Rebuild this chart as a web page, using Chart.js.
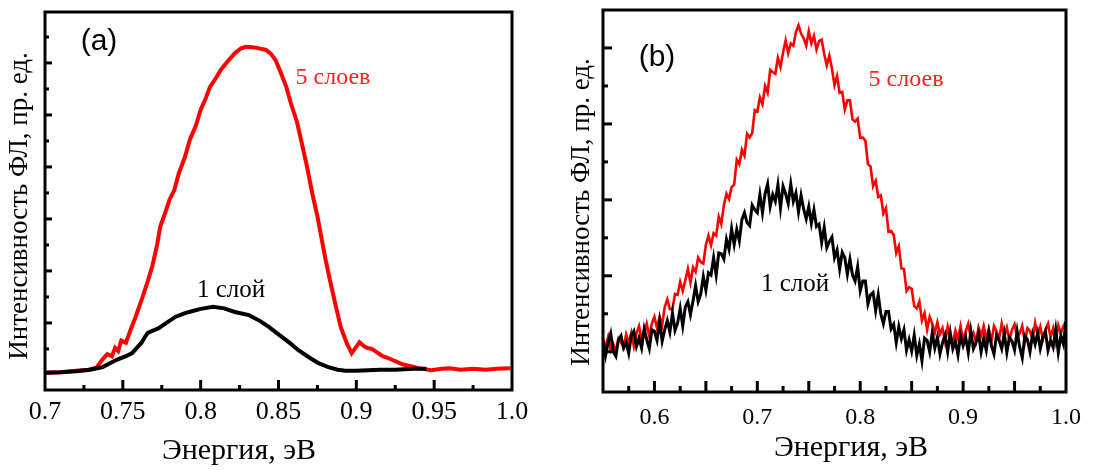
<!DOCTYPE html>
<html>
<head>
<meta charset="utf-8">
<script src="https://cdn.jsdelivr.net/npm/chart.js@4/dist/chart.umd.min.js"></script>
<style>
body{margin:0;background:#fff;width:1093px;height:470px;overflow:hidden;position:relative}
canvas{position:absolute;top:0}
#chartA{left:0}
#chartB{left:546px}
</style>
</head>
<body>
<canvas id="chartA" width="546" height="470"></canvas>
<canvas id="chartB" width="547" height="470"></canvas>
<script>
// ---- panel (a) ----
var energyA5 = [0.700,0.710,0.720,0.728,0.733,0.737,0.740,0.743,0.745,0.747,0.749,0.752,0.755,0.758,0.762,0.766,0.769,0.772,0.774,0.777,
  0.780,0.783,0.786,0.790,0.793,0.797,0.800,0.803,0.806,0.810,0.813,0.817,0.822,0.826,0.829,0.833,0.836,0.842,0.845,0.848,
  0.851,0.855,0.858,0.862,0.865,0.868,0.872,0.875,0.877,0.880,0.883,0.887,0.890,0.894,0.897,0.899,0.902,0.905,0.907,0.910,
  0.913,0.917,0.920,0.926,0.930,0.935,0.940,0.948,0.955,0.960,0.967,0.975,0.983,0.990,0.999];
var intensA5 = [0.04,0.05,0.08,0.10,0.14,0.30,0.40,0.36,0.52,0.46,0.66,0.62,0.87,1.10,1.44,1.80,2.10,2.50,2.85,3.10,
  3.37,3.55,3.88,4.20,4.52,4.80,5.10,5.30,5.54,5.72,5.87,6.02,6.19,6.28,6.31,6.30,6.29,6.25,6.18,6.06,
  5.85,5.54,5.22,4.85,4.45,4.05,3.45,3.05,2.73,2.25,1.83,1.30,0.92,0.60,0.42,0.50,0.63,0.55,0.52,0.50,
  0.44,0.36,0.33,0.25,0.20,0.17,0.13,0.09,0.12,0.13,0.10,0.12,0.10,0.12,0.13];

var energyA1 = [0.700,0.710,0.720,0.729,0.737,0.746,0.752,0.756,0.759,0.762,0.764,0.766,0.770,0.773,0.778,0.784,0.790,0.795,0.800,0.808,
  0.815,0.822,0.831,0.838,0.844,0.850,0.857,0.863,0.870,0.876,0.882,0.888,0.893,0.900,0.915,0.925,0.937,0.945];
var intensA1 = [0.04,0.05,0.07,0.10,0.15,0.29,0.36,0.42,0.52,0.62,0.72,0.81,0.86,0.90,1.00,1.12,1.19,1.23,1.27,1.31,
  1.28,1.21,1.15,1.04,0.92,0.78,0.62,0.47,0.33,0.22,0.15,0.10,0.08,0.08,0.10,0.10,0.12,0.12];

var xTickA = [0.7,0.75,0.8,0.85,0.9,0.95,1.0];
var xLabelA = ['0.7','0.75','0.8','0.85','0.9','0.95','1.0'];
var xMajorA = [0.75,0.8,0.85,0.9,0.95];
var xMinorA = [0.725,0.775,0.825,0.875,0.925,0.975];
var yMajorA = [1,2,3,4,5,6];
var yMinorA = [0.5,1.5,2.5,3.5,4.5,5.5,6.5];

// ---- panel (b) ----
var energyB = [
  0.5500,0.5525,0.5550,0.5575,0.5600,0.5625,0.5650,0.5675,0.5700,0.5725,
  0.5750,0.5775,0.5800,0.5825,0.5850,0.5875,0.5900,0.5925,0.5950,0.5975,
  0.6000,0.6025,0.6050,0.6075,0.6100,0.6125,0.6150,0.6175,0.6200,0.6225,
  0.6250,0.6275,0.6300,0.6325,0.6350,0.6375,0.6400,0.6425,0.6450,0.6475,
  0.6500,0.6525,0.6550,0.6575,0.6600,0.6625,0.6650,0.6675,0.6700,0.6725,
  0.6750,0.6775,0.6800,0.6825,0.6850,0.6875,0.6900,0.6925,0.6950,0.6975,
  0.7000,0.7025,0.7050,0.7075,0.7100,0.7125,0.7150,0.7175,0.7200,0.7225,
  0.7250,0.7275,0.7300,0.7325,0.7350,0.7375,0.7400,0.7425,0.7450,0.7475,
  0.7500,0.7525,0.7550,0.7575,0.7600,0.7625,0.7650,0.7675,0.7700,0.7725,
  0.7750,0.7775,0.7800,0.7825,0.7850,0.7875,0.7900,0.7925,0.7950,0.7975,
  0.8000,0.8025,0.8050,0.8075,0.8100,0.8125,0.8150,0.8175,0.8200,0.8225,
  0.8250,0.8275,0.8300,0.8325,0.8350,0.8375,0.8400,0.8425,0.8450,0.8475,
  0.8500,0.8525,0.8550,0.8575,0.8600,0.8625,0.8650,0.8675,0.8700,0.8725,
  0.8750,0.8775,0.8800,0.8825,0.8850,0.8875,0.8900,0.8925,0.8950,0.8975,
  0.9000,0.9025,0.9050,0.9075,0.9100,0.9125,0.9150,0.9175,0.9200,0.9225,
  0.9250,0.9275,0.9300,0.9325,0.9350,0.9375,0.9400,0.9425,0.9450,0.9475,
  0.9500,0.9525,0.9550,0.9575,0.9600,0.9625,0.9650,0.9675,0.9700,0.9725,
  0.9750,0.9775,0.9800,0.9825,0.9850,0.9875,0.9900,0.9925,0.9950,0.9975,
  1.0000];
var intensB5 = [
  -0.10,0.08,0.20,0.02,0.10,0.00,0.17,0.12,0.06,0.23,
  0.12,0.25,0.07,0.24,0.34,0.17,0.24,0.37,0.20,0.37,
  0.46,0.31,0.46,0.35,0.59,0.69,0.56,0.56,0.76,0.75,
  0.92,0.80,0.94,1.09,0.91,1.11,1.05,1.24,1.18,1.16,
  1.41,1.53,1.40,1.56,1.53,1.78,1.68,1.93,2.08,2.01,
  2.17,2.20,2.53,2.47,2.66,2.58,2.87,2.82,2.88,3.18,
  3.16,3.35,3.26,3.50,3.41,3.71,3.68,3.66,3.87,3.75,
  3.94,4.10,3.93,4.06,4.03,4.21,4.30,4.19,4.13,4.03,
  4.22,4.06,4.16,3.98,4.09,4.11,3.92,3.77,3.90,3.73,
  3.51,3.63,3.41,3.42,3.19,3.31,3.31,3.06,3.03,3.07,
  2.82,2.82,2.78,2.47,2.44,2.18,2.25,2.04,2.06,1.82,
  1.89,1.58,1.59,1.54,1.30,1.39,1.10,1.09,0.80,0.85,
  0.83,0.60,0.57,0.66,0.41,0.51,0.29,0.46,0.37,0.25,
  0.39,0.23,0.31,0.13,0.33,0.18,0.12,0.28,0.17,0.34,
  0.15,0.27,0.37,0.18,0.25,0.13,0.32,0.21,0.34,0.17,
  0.30,0.13,0.34,0.27,0.17,0.37,0.20,0.32,0.15,0.29,
  0.36,0.19,0.24,0.34,0.13,0.31,0.27,0.17,0.38,0.21,
  0.33,0.16,0.29,0.37,0.19,0.31,0.13,0.35,0.24,0.34,
  0.40];
var intensB1 = [
  0.16,-0.05,0.12,0.24,0.00,-0.06,0.16,0.21,0.05,0.12,
  -0.02,0.21,0.27,0.07,0.18,0.05,0.30,0.16,0.04,0.29,
  0.27,0.15,0.40,0.14,0.29,0.41,0.26,0.51,0.28,0.38,
  0.57,0.34,0.59,0.66,0.49,0.67,0.87,0.66,0.76,0.99,
  0.81,1.04,1.01,1.24,1.01,1.30,1.29,1.22,1.48,1.35,
  1.62,1.41,1.61,1.46,1.74,1.83,1.70,1.66,1.93,1.87,
  1.83,2.07,1.83,2.08,2.21,1.91,2.07,1.98,2.20,1.89,
  2.18,2.08,1.95,2.21,1.98,2.09,1.84,2.06,1.88,1.75,
  1.91,1.69,1.87,1.65,1.68,1.44,1.64,1.37,1.45,1.51,
  1.24,1.34,1.09,1.31,1.24,1.02,1.22,1.01,0.93,1.12,
  0.80,0.93,0.93,0.63,0.75,0.78,0.54,0.75,0.50,0.37,
  0.53,0.53,0.30,0.36,0.12,0.33,0.17,0.29,0.02,0.16,
  0.01,0.22,-0.05,0.10,-0.12,0.18,0.15,0.00,0.25,0.05,
  0.19,-0.03,0.12,0.22,0.00,0.25,0.04,0.14,-0.04,0.21,
  0.08,0.19,-0.01,0.27,0.04,0.12,0.24,0.00,0.17,0.02,
  0.26,0.08,-0.03,0.22,0.15,0.04,0.24,-0.01,0.19,0.14,
  0.02,0.27,0.06,-0.08,0.21,0.16,0.00,0.23,0.10,0.25,
  0.04,0.19,0.27,0.02,0.15,0.06,0.29,-0.01,0.21,0.10,
  0.40];

var xTickB = [0.6,0.7,0.8,0.9,1.0];
var xLabelB = ['0.6','0.7','0.8','0.9','1.0'];
var xMajorB = [0.6,0.65,0.7,0.75,0.8,0.85,0.9,0.95];
var xMinorB = [0.575,0.625,0.675,0.725,0.775,0.825,0.875,0.925,0.975];
var yMajorB = [0,1,2,3,4];
var yMinorB = [0.5,1.5,2.5,3.5];

function pts(xs, ys) { return xs.map(function (v, i) { return {x: v, y: ys[i]}; }); }

var serif = '"Liberation Serif", "Times New Roman", serif';

// frame, inward ticks and free texts
const frameTicks = {
  id: 'frameTicks',
  afterDraw(chart, args, o) {
    const ctx = chart.ctx, a = chart.chartArea, x = chart.scales.x, y = chart.scales.y;
    ctx.save();
    ctx.strokeStyle = '#000';
    ctx.lineWidth = 3;
    function seg(x1, y1, x2, y2) { ctx.beginPath(); ctx.moveTo(x1, y1); ctx.lineTo(x2, y2); ctx.stroke(); }
    o.xMajor.forEach(v => { const p = x.getPixelForValue(v); seg(p, a.bottom, p, a.bottom - o.xMajorLen); });
    o.xMinor.forEach(v => { const p = x.getPixelForValue(v); seg(p, a.bottom, p, a.bottom - o.xMinorLen); });
    o.yMajor.forEach(v => { const p = y.getPixelForValue(v); seg(a.left, p, a.left + o.yMajorLen, p); });
    o.yMinor.forEach(v => { const p = y.getPixelForValue(v); seg(a.left, p, a.left + o.yMinorLen, p); });
    ctx.strokeRect(a.left, a.top, a.right - a.left, a.bottom - a.top);

    ctx.textAlign = 'center';
    ctx.textBaseline = 'middle';
    o.notes.forEach(n => {
      ctx.font = n.font;
      ctx.fillStyle = n.color;
      ctx.fillText(n.text, x.getPixelForValue(n.x), y.getPixelForValue(n.y));
    });

    ctx.fillStyle = '#000';
    ctx.textBaseline = 'alphabetic';
    ctx.font = '30px ' + serif;
    ctx.fillText('Энергия, эВ', o.xTitleAt[0], o.xTitleAt[1]);
    ctx.translate(o.yTitleAt[0], o.yTitleAt[1]);
    ctx.rotate(-Math.PI / 2);
    ctx.textBaseline = 'middle';
    ctx.font = '27px ' + serif;
    ctx.fillText('Интенсивность ФЛ, пр. ед.', 0, 0);
    ctx.restore();
  }
};

function makeChart(id, datasets, c) {
  return new Chart(document.getElementById(id), {
    type: 'line',
    data: {datasets: datasets},
    options: {
      responsive: false,
      animation: false,
      devicePixelRatio: 1,
      layout: {padding: c.padding},
      plugins: {legend: {display: false}, tooltip: {enabled: false}, frameTicks: c.frame},
      elements: {point: {radius: 0}, line: {tension: 0}},
      scales: {
        x: {
          type: 'linear', min: c.xMin, max: c.xMax,
          grid: {display: false, drawTicks: false},
          border: {display: false},
          afterBuildTicks: function (s) { s.ticks = c.xTicks.map(function (v) { return {value: v}; }); },
          afterFit: function (s) { s.height = c.xAxisH; },
          ticks: {
            autoSkip: false, maxRotation: 0, padding: c.tickPad, color: '#000',
            font: {family: serif, size: c.tickSize},
            callback: function (v, i) { return c.xLabels[i]; }
          }
        },
        y: {
          type: 'linear', min: c.yMin, max: c.yMax,
          grid: {display: false, drawTicks: false},
          border: {display: false},
          ticks: {display: false},
          afterFit: function (s) { s.width = c.yAxisW; }
        }
      }
    },
    plugins: [frameTicks]
  });
}

makeChart('chartA', [
  {data: pts(energyA1, intensA1), borderColor: '#000000', borderWidth: 4, order: 0},
  {data: pts(energyA5, intensA5), borderColor: '#ff0000', borderWidth: 4, order: 1}
], {
  padding: {top: 12, right: 34, left: 0, bottom: 0},
  xMin: 0.7, xMax: 1.0, yMin: -0.29, yMax: 6.98,
  xTicks: xTickA, xLabels: xLabelA, xAxisH: 80, yAxisW: 45, tickPad: 7, tickSize: 26,
  frame: {
    xMajor: xMajorA, xMinor: xMinorA, yMajor: yMajorA, yMinor: yMinorA,
    xMajorLen: 10, xMinorLen: 5, yMajorLen: 7, yMinorLen: 4,
    xTitleAt: [239, 459], yTitleAt: [20, 206],
    notes: [
      {text: '(a)', x: 0.7347, y: 6.40, font: '30px "Liberation Sans", Arial, sans-serif', color: '#000'},
      {text: '5 слоев', x: 0.885, y: 5.71, font: '24px ' + serif, color: '#ff2020'},
      {text: '1 слой', x: 0.8195, y: 1.63, font: '25px ' + serif, color: '#000'}
    ]
  }
});

makeChart('chartB', [
  {data: pts(energyB, intensB1), borderColor: '#000000', borderWidth: 3, order: 0},
  {data: pts(energyB, intensB5), borderColor: '#ff0000', borderWidth: 2.6, order: 1}
], {
  padding: {top: 10, right: 27, left: 0, bottom: 0},
  xMin: 0.55, xMax: 1.0, yMin: -0.53, yMax: 4.5,
  xTicks: xTickB, xLabels: xLabelB, xAxisH: 78, yAxisW: 57, tickPad: 11, tickSize: 24,
  frame: {
    xMajor: xMajorB, xMinor: xMinorB, yMajor: yMajorB, yMinor: yMinorB,
    xMajorLen: 11, xMinorLen: 6, yMajorLen: 9, yMinorLen: 5,
    xTitleAt: [305, 456], yTitleAt: [36, 212],
    notes: [
      {text: '(b)', x: 0.6025, y: 3.87, font: '30px "Liberation Sans", Arial, sans-serif', color: '#000'},
      {text: '5 слоев', x: 0.8445, y: 3.58, font: '24px ' + serif, color: '#ff2020'},
      {text: '1 слой', x: 0.7366, y: 0.89, font: '25px ' + serif, color: '#000'}
    ]
  }
});
</script>
</body>
</html>
